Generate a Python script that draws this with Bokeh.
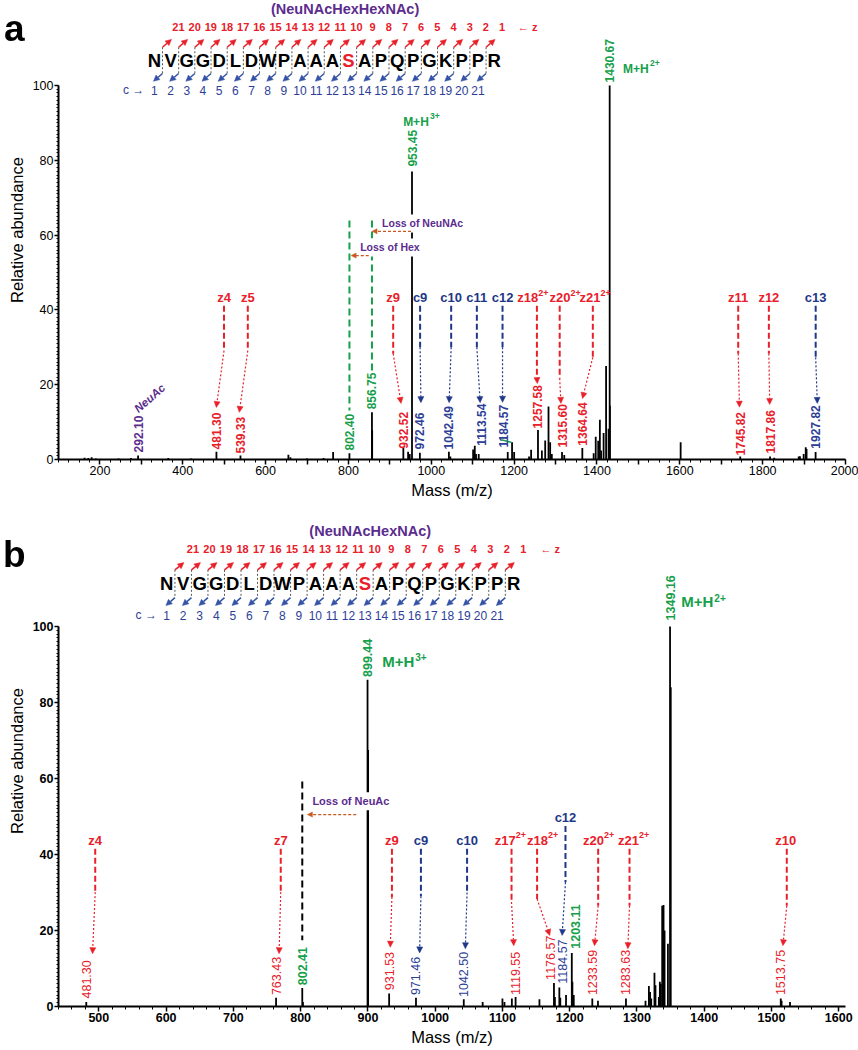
import math
from bokeh.plotting import figure
from bokeh.models import (Range1d, ColumnDataSource, Arrow, NormalHead, Label, Div,
                          FixedTicker, SingleIntervalTicker)
from bokeh.layouts import column
from bokeh.embed import file_html
from bokeh.resources import INLINE
from bokeh.core.properties import value

FONT = "Liberation Sans"
RED = "#e8202a"
BLUE = "#2c3e96"
NAVY = "#1e3788"
ARROW_BLUE = "#3453a6"
GREEN = "#16a04a"
PURPLE = "#5b2c8e"
ORANGE = "#c9581e"
BLACK = "#000000"

SEQ = list("NVGGDLDWPAAASAPQPGKPPR")
SITE = 12

# ---------------- panel a : spectrum ----------------
A_MZ = [163, 172, 180, 190, 245, 275, 292.10, 365, 420,
        481.30, 539.33, 655, 660, 700, 740, 763, 802.40,
        856.75, 857.25, 932.52, 944, 948, 953.45, 972.46,
        1042.49, 1046, 1101, 1105, 1108, 1114.5,
        1184.57, 1195, 1200, 1236, 1241, 1257.58,
        1267, 1275, 1283, 1287, 1291, 1315.60, 1321,
        1364.64, 1392, 1397, 1403, 1407, 1410, 1416, 1422, 1428, 1430.67, 1431.2,
        1602, 1745.82, 1817.86, 1828, 1887, 1890, 1899, 1904, 1906, 1927.82]
A_INT = [0.5, 0.4, 0.6, 0.3, 0.3, 0.4, 1.1, 0.4, 0.3,
         2.1, 1.1, 1.3, 0.6, 0.3, 0.4, 2.0, 1.7,
         12.6, 7.8, 3.1, 2.1, 1.5, 77.0, 1.8,
         2.1, 0.8, 2.7, 3.7, 1.5, 1.5,
         2.0, 4.6, 2.0, 0.8, 2.6, 7.9,
         2.4, 5.1, 14.2, 4.6, 1.5, 2.0, 1.2,
         3.1, 1.7, 6.1, 5.0, 10.6, 2.4, 7.1, 25.0, 8.2, 100.0, 14.4,
         4.6, 0.8, 0.8, 0.5, 0.8, 0.9, 1.5, 3.3, 2.8, 2.0]

# fragment annotations (label, superscript, label x, label y, line x, knee y, arrow x, arrow y)
A_ANN_LABEL = ["z4", "z5", "z9", "c9", "c10", "c11", "c12", "z18", "z20", "z21", "z11", "z12", "c13"]
A_ANN_SUP = ["", "", "", "", "", "", "", "2+", "2+", "2+", "", "", ""]
A_ANN_LX = [499.6, 557, 908, 973, 1048, 1110, 1172, 1233, 1310.5, 1383, 1741, 1815, 1928]
A_ANN_LY = [43.3] * 13
A_ANN_LINEX = [499.6, 557, 908, 973, 1048, 1110, 1172, 1255, 1310, 1390, 1741, 1815, 1928]
A_ANN_KNEE = [29.1, 29.1, 28.3, 30.0, 30.0, 30.0, 30.0, 21.9, 21.7, 27.3, 28.3, 28.3, 27.3]
A_ANN_AX = [481, 536.5, 927, 975, 1043, 1118, 1172, 1256, 1313, 1365, 1744, 1817, 1932]
A_ANN_AY = [13.9, 12.6, 15.0, 15.2, 15.2, 15.2, 15.3, 20.3, 15.0, 16.3, 14.0, 14.7, 15.0]

# peak mass labels (x, start y, text, kind)
A_MASS_X = [292.10, 481.30, 539.33, 802.40, 856.75, 932.52, 953.45, 972.46, 1042.49, 1122,
            1175, 1257.58, 1315.60, 1364.64, 1430.67, 1745.82, 1817.86, 1927.82]
A_MASS_Y = [1.9, 2.7, 1.6, 2.4, 13.4, 2.9, 78.3, 2.7, 2.7, 3.7,
            3.2, 8.3, 3.2, 3.7, 100.8, 1.1, 1.6, 2.9]
A_MASS_T = ["292.10", "481.30", "539.33", "802.40", "856.75", "932.52", "953.45", "972.46", "1042.49", "1113.54",
            "1184.57", "1257.58", "1315.60", "1364.64", "1430.67", "1745.82", "1817.86", "1927.82"]
A_MASS_K = ["p", "z", "z", "g", "g", "z", "g", "c", "c", "c", "c", "z", "z", "z", "g", "z", "z", "c"]

# ---------------- panel b : spectrum ----------------
B_MZ = [481.30, 763.43, 802.41, 803.4, 899.44, 900.3, 931.53, 971.46,
        1042.50, 1070.6, 1100, 1103, 1114, 1119.55, 1155,
        1176.57, 1178, 1184.57, 1186, 1194.5, 1203.11, 1204, 1206,
        1233.59, 1242, 1283.63, 1312.7, 1317.7, 1319.5, 1321.2,
        1326, 1327.5, 1332.5, 1334, 1335.5, 1337.5, 1339.5, 1341, 1346,
        1349.16, 1350.2, 1513.75, 1515, 1527.5]
B_INT = [1.2, 2.3, 4.9, 1.2, 86.0, 67.5, 3.4, 2.3,
         1.9, 1.2, 2.1, 1.2, 2.1, 2.5, 1.9,
         6.2, 2.5, 5.0, 2.3, 3.0, 14.1, 6.5, 3.0,
         2.1, 1.5, 2.1, 1.5, 5.4, 3.8, 2.1,
         8.9, 5.6, 2.5, 6.5, 6.0, 26.5, 26.7, 20.0, 16.5,
         100.0, 84.0, 2.1, 1.5, 1.2]

B_ANN_LABEL = ["z4", "z7", "z9", "c9", "c10", "z17", "z18", "c12", "z20", "z21", "z10"]
B_ANN_SUP = ["", "", "", "", "", "2+", "2+", "", "2+", "2+", ""]
B_ANN_LX = [494.6, 770.4, 935.7, 978.8, 1047.4, 1104.3, 1152, 1193.7, 1235.4, 1287.4, 1521.2]
B_ANN_LY = [43.7, 43.7, 43.7, 43.7, 43.7, 43.7, 43.7, 49.7, 43.7, 43.7, 43.7]
B_ANN_LINEX = [494.6, 770.4, 935.7, 978.8, 1047.4, 1113.5, 1151.5, 1193.7, 1242.3, 1288.9, 1522.7]
B_ANN_KNEE = [30.1, 30.1, 28.8, 29.0, 30.0, 27.5, 28.3, 32.7, 26.5, 26.5, 26.5]
B_ANN_AX = [490.6, 767.9, 933.2, 976.8, 1044.8, 1116.8, 1170.4, 1188.7, 1236.8, 1286.4, 1517]
B_ANN_AY = [13.9, 13.9, 15.6, 14.1, 15.2, 16.0, 18.7, 18.7, 16.0, 15.2, 16.0]

B_MASS_X = [481.30, 763.43, 802.41, 899.44, 931.53, 971.46, 1042.50, 1119.55, 1171,
            1189, 1208, 1233.59, 1283.63, 1349.16, 1513.75]
B_MASS_Y = [2.1, 3.0, 5.6, 86.7, 4.3, 3.0, 2.5, 3.0, 7.0, 6.0, 15.2, 3.0, 3.0, 101.6, 3.0]
B_MASS_T = ["481.30", "763.43", "802.41", "899.44", "931.53", "971.46", "1042.50", "1119.55", "1176.57",
            "1184.57", "1203.11", "1233.59", "1283.63", "1349.16", "1513.75"]
B_MASS_K = ["z", "z", "g", "g", "z", "c", "c", "z", "z", "c", "g", "z", "z", "g", "z"]

KIND_COLOR = {"z": RED, "c": BLUE, "g": GREEN, "p": PURPLE}

# header layout (data units of each panel)
A_HEAD = dict(x0=331.5, step=39.06, y_let=106.7, y_z=115.5, y_c=98.7, title="(NeuNAcHexHexNAc)",
              title_x=792, title_y=120.4, clab_x=307, zlab_x=1209, zshift=38.6,
              y_ra0=110.2, y_ra1=112.3, y_ba0=103.2, y_ba1=101.1, adx=21.7)
B_HEAD = dict(x0=600.8, step=24.56, y_let=111.2, y_z=120.4, y_c=102.9, title="(NeuNAcHexNAc)",
              title_x=903.4, title_y=125.1, clab_x=586.3, zlab_x=1156.5, zshift=26.8,
              y_ra0=114.9, y_ra1=116.8, y_ba0=107.6, y_ba1=105.5, adx=13.4)


def add_text(p, xs, ys, texts, colors, size, style="normal", align="center",
             baseline="middle", angle=0.0, xo=0, yo=0):
    if not xs:
        return
    if isinstance(colors, str):
        colors = [colors] * len(xs)
    src = ColumnDataSource(dict(x=list(xs), y=list(ys), t=list(texts), col=list(colors)))
    p.text(x="x", y="y", text="t", text_color="col", source=src,
           text_font=value(FONT), text_font_size=value(size), text_font_style=value(style),
           text_align=value(align), text_baseline=value(baseline), angle=value(angle),
           x_offset=value(xo), y_offset=value(yo))


def add_arrow_set(p, xs, ys, xe, ye, color, dash, width, head):
    if not xs:
        return
    src = ColumnDataSource(dict(xs=list(xs), ys=list(ys), xe=list(xe), ye=list(ye)))
    p.add_layout(Arrow(end=NormalHead(size=head, line_color=color, fill_color=color, line_width=0.5),
                       x_start="xs", y_start="ys", x_end="xe", y_end="ye", source=src,
                       line_color=color, line_width=width, line_dash=dash))


def make_fig(height, xr, yr, left, bottom, xticks, xminor, skip, tick_style):
    p = figure(width=858, height=height, x_range=Range1d(*xr), y_range=Range1d(*yr),
               output_backend="svg", toolbar_location=None,
               min_border_left=left, min_border_right=13, min_border_top=0,
               min_border_bottom=bottom)
    p.outline_line_color = None
    p.xgrid.visible = False
    p.ygrid.visible = False
    xa = p.xaxis[0]
    ya = p.yaxis[0]
    xa.ticker = FixedTicker(ticks=xticks, minor_ticks=xminor)
    if skip:
        xa.major_label_overrides = {t: "" for t in skip}
    ya.ticker = SingleIntervalTicker(interval=20, num_minor_ticks=20)
    ya.bounds = (0, 100)
    for ax in (xa, ya):
        ax.axis_line_width = 2
        ax.axis_line_color = "black"
        ax.major_tick_line_width = 1.5
        ax.major_tick_line_color = "black"
        ax.minor_tick_line_width = 1
        ax.minor_tick_line_color = "black"
        ax.major_tick_in = 0
        ax.minor_tick_in = 0
        ax.major_label_text_font = FONT
        ax.major_label_text_font_size = "12.5px"
        ax.major_label_text_font_style = tick_style
        ax.major_label_text_color = "black"
        ax.axis_label_text_font = FONT
        ax.axis_label_text_font_size = "16.5px"
        ax.axis_label_text_font_style = "normal"
        ax.axis_label_text_color = "black"
    xa.major_tick_out = 5
    xa.minor_tick_out = 3
    xa.major_label_standoff = 1
    xa.axis_label_standoff = 3
    ya.major_tick_out = 4
    ya.minor_tick_out = 2
    ya.major_label_standoff = 1
    ya.axis_label_standoff = 4
    xa.axis_label = "Mass (m/z)"
    ya.axis_label = "Relative abundance"
    return p


def draw_header(p, h):
    n = len(SEQ)
    lx = [h["x0"] + i * h["step"] for i in range(n)]
    cols = [RED if i == SITE else BLACK for i in range(n)]
    gaps = [x + h["step"] / 2 for x in lx[:-1]]
    m = len(gaps)
    p.segment(x0=gaps, y0=[h["y_ra0"]] * m, x1=gaps, y1=[h["y_ba0"]] * m,
              line_color="#555555", line_width=1, line_dash="2 2")
    add_text(p, lx, [h["y_let"]] * n, SEQ, cols, "18.5px", "bold")
    add_arrow_set(p, gaps, [h["y_ra0"]] * m, [g + h["adx"] for g in gaps], [h["y_ra1"]] * m,
                  RED, "solid", 1.5, 6)
    add_arrow_set(p, gaps, [h["y_ba0"]] * m, [g - h["adx"] for g in gaps], [h["y_ba1"]] * m,
                  ARROW_BLUE, "solid", 1.5, 6)
    add_text(p, [g + h["zshift"] for g in gaps], [h["y_z"]] * m, [str(m - i) for i in range(m)],
             RED, "11px", "bold")
    add_text(p, [h["zlab_x"]], [h["y_z"]], ["\u2190 z"], RED, "11px", "bold", align="left")
    add_text(p, lx[:m], [h["y_c"]] * m, [str(i + 1) for i in range(m)], BLUE, "12px")
    add_text(p, [h["clab_x"]], [h["y_c"]], ["c \u2192"], BLUE, "12px", align="right")
    add_text(p, [h["title_x"]], [h["title_y"]], [h["title"]], PURPLE, "14.5px", "bold")


def draw_annotations(p, labels, sups, lx, ly, linex, knee, ax, ay):
    cols = [RED if s.startswith("z") else NAVY for s in labels]
    top = [y - 2.2 for y in ly]
    p.segment(x0=linex, y0=top, x1=linex, y1=knee, line_color=cols, line_width=2, line_dash="6 3")
    for c in (RED, NAVY):
        sel = [i for i in range(len(labels)) if cols[i] == c]
        add_arrow_set(p, [linex[i] for i in sel], [knee[i] for i in sel],
                      [ax[i] for i in sel], [ay[i] for i in sel], c, "2 2", 1.2, 6)
    add_text(p, lx, ly, labels, cols, "13px", "bold")
    idx = [i for i, s in enumerate(sups) if s]
    add_text(p, [lx[i] for i in idx], [ly[i] for i in idx], [sups[i] for i in idx],
             [cols[i] for i in idx], "9px", "bold", align="left", xo=10.5, yo=-5)


def draw_mass(p, xs, ys, ts, ks, size, style, green_style):
    for group in (["z", "c", "p"], ["g"]):
        sel = [i for i, k in enumerate(ks) if k in group]
        st = green_style if group == ["g"] else style
        add_text(p, [xs[i] for i in sel], [ys[i] for i in sel], [ts[i] for i in sel],
                 [KIND_COLOR[ks[i]] for i in sel], size, st,
                 align="left", baseline="middle", angle=math.pi / 2)


def add_loss(p, x, y, text, size, ax0, ax1, ay):
    kw = dict(x=x, y=y, text=text, text_font=FONT, text_font_size=size, text_font_style="bold",
              text_color=PURPLE, text_align="left", text_baseline="middle",
              background_fill_color="white")
    try:
        lab = Label(padding=3, **kw)
    except Exception:
        lab = Label(**kw)
    p.add_layout(lab)
    add_arrow_set(p, [ax0], [ay], [ax1], [ay], ORANGE, "3 2", 1.2, 5)


def panel_letter(letter, left, top):
    return Div(text=letter, width=30, height=44,
               styles={"position": "fixed", "left": "%dpx" % left, "top": "%dpx" % top,
                       "font-family": FONT, "font-size": "37px", "font-weight": "bold",
                       "line-height": "38px", "color": "black", "z-index": "10"})


# ================= figure a =================
pa = make_fig(515, (100, 2000), (0, 122.7), 57, 56,
              list(range(200, 2001, 100)), list(range(100, 2001, 25)),
              list(range(300, 2000, 200)), "normal")
pa.segment(x0=A_MZ, y0=[0] * len(A_MZ), x1=A_MZ, y1=A_INT, line_color="black", line_width=1.8)
pa.segment(x0=[802.40, 856.75], y0=[63.9, 63.9], x1=[802.40, 856.75], y1=[13.1, 23.8],
           line_color=GREEN, line_width=2, line_dash="7 4")
pa.segment(x0=[1169], y0=[5.3], x1=[1193], y1=[4.6], line_color=GREEN, line_width=1.5)
draw_header(pa, A_HEAD)
draw_annotations(pa, A_ANN_LABEL, A_ANN_SUP, A_ANN_LX, A_ANN_LY, A_ANN_LINEX, A_ANN_KNEE,
                 A_ANN_AX, A_ANN_AY)
draw_mass(pa, A_MASS_X, A_MASS_Y, A_MASS_T, A_MASS_K, "12px", "bold", "bold")
add_text(pa, [287], [13.2], ["NeuAc"], PURPLE, "11.5px", "bold italic", align="left", angle=0.72)
add_text(pa, [963, 1494], [90.1, 104.5], ["M+H", "M+H"], GREEN, "12px", "bold")
add_text(pa, [963, 1494], [90.1, 104.5], ["3+", "2+"], GREEN, "8.5px", "bold", align="left",
         xo=14, yo=-6)
add_loss(pa, 874, 63.1, "Loss of NeuNAc", "10.5px", 951, 857, 61.0)
add_loss(pa, 821, 56.7, "Loss of Hex", "10.5px", 849, 806.5, 54.5)

# ================= figure b =================
pb = make_fig(535, (440, 1610), (0, 129.2), 58, 44,
              list(range(500, 1601, 100)), list(range(440, 1611, 20)), [], "bold")
pb.segment(x0=B_MZ, y0=[0] * len(B_MZ), x1=B_MZ, y1=B_INT, line_color="black", line_width=1.8)
pb.segment(x0=[802.41], y0=[59.2], x1=[802.41], y1=[17.4], line_color="black", line_width=2,
           line_dash="7 4")
draw_header(pb, B_HEAD)
draw_annotations(pb, B_ANN_LABEL, B_ANN_SUP, B_ANN_LX, B_ANN_LY, B_ANN_LINEX, B_ANN_KNEE,
                 B_ANN_AX, B_ANN_AY)
draw_mass(pb, B_MASS_X, B_MASS_Y, B_MASS_T, B_MASS_K, "12.5px", "normal", "bold")
add_text(pb, [945, 1389.7], [90.9, 106.5], ["M+H", "M+H"], GREEN, "15px", "bold")
add_text(pb, [945, 1389.7], [90.9, 106.5], ["3+", "2+"], GREEN, "10px", "bold", align="left",
         xo=17, yo=-4)
add_loss(pb, 813, 54.0, "Loss of NeuAc", "11px", 882.6, 810, 50.5)

layout = column(pa, pb, panel_letter("a", -1, 5), panel_letter("b", -2, 531))
open("out.html", "w").write(file_html(layout, INLINE))
